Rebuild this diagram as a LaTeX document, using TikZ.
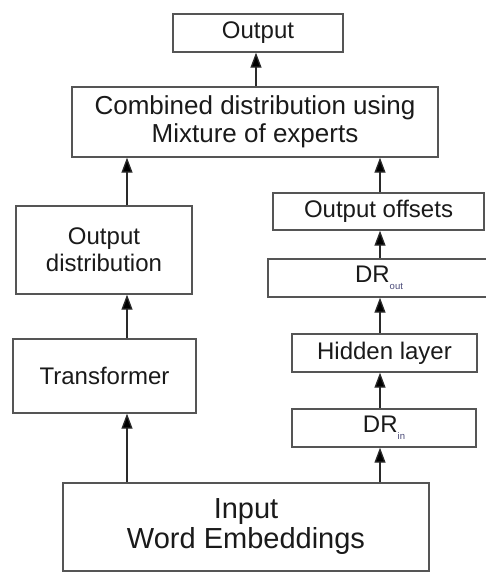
\documentclass[tikz,border=0pt]{standalone}
\usepackage{fontspec}
\setmainfont{Liberation Sans}
\usetikzlibrary{arrows.meta}
\definecolor{boxline}{HTML}{555555}
\definecolor{wire}{HTML}{2A2A2A}
\definecolor{ink}{HTML}{1A1A1A}
\definecolor{subink}{HTML}{4A4A78}
\newcommand{\lowsub}[1]{\raisebox{-7pt}{\fontsize{9.5}{9.5}\selectfont\color{subink}#1}}
\begin{document}
\begin{tikzpicture}[x=1pt,y=-1pt,
  box/.style={draw=boxline,line width=1.4pt,fill=white,inner sep=0pt,
    align=center,text=ink,font=\fontsize{24}{27}\selectfont},
  arr/.style={draw=wire,line width=1.3pt,
    -{Triangle[length=15pt,width=11pt,fill=black]}}]
\useasboundingbox (0,0) rectangle (486,572);
\clip (0,0) rectangle (486,572);
% column guides for the vertical connectors
\coordinate (lx) at (127,0);
\coordinate (rx) at (380,0);
\coordinate (cx) at (256,0);
% boxes
\node[box,minimum width=170pt,minimum height=38pt] (output) at (258,33) {Output};
\node[box,minimum width=366pt,minimum height=70pt,font=\fontsize{26}{28.5}\selectfont] (combined) at (255,122)
  {Combined distribution using\\Mixture of experts};
\node[box,minimum width=176pt,minimum height=88pt] (outdist) at (104,250) {Output\\distribution};
\node[box,minimum width=183pt,minimum height=74pt] (transformer) at (104.5,376) {Transformer};
\node[box,minimum width=211pt,minimum height=37pt] (offsets) at (378.5,211.5) {Output offsets};
\node[box,minimum width=222pt,minimum height=38pt] (drout) at (379,278) {DR\lowsub{out}};
\node[box,minimum width=185pt,minimum height=38pt] (hidden) at (384.5,353) {Hidden layer};
\node[box,minimum width=184pt,minimum height=38pt] (drin) at (384,428) {DR\lowsub{in}};
\node[box,minimum width=366pt,minimum height=88pt,font=\fontsize{29}{30}\selectfont] (input) at (246,527)
  {Input\\Word Embeddings};
% connectors
\draw[arr] (input.north -| lx) -- (transformer.south -| lx);
\draw[arr] (transformer.north -| lx) -- (outdist.south -| lx);
\draw[arr] (outdist.north -| lx) -- (combined.south -| lx);
\draw[arr] (input.north -| rx) -- (drin.south -| rx);
\draw[arr] (drin.north -| rx) -- (hidden.south -| rx);
\draw[arr] (hidden.north -| rx) -- (drout.south -| rx);
\draw[arr] (drout.north -| rx) -- (offsets.south -| rx);
\draw[arr] (offsets.north -| rx) -- (combined.south -| rx);
\draw[arr] (combined.north -| cx) -- (output.south -| cx);
\end{tikzpicture}
\end{document}
